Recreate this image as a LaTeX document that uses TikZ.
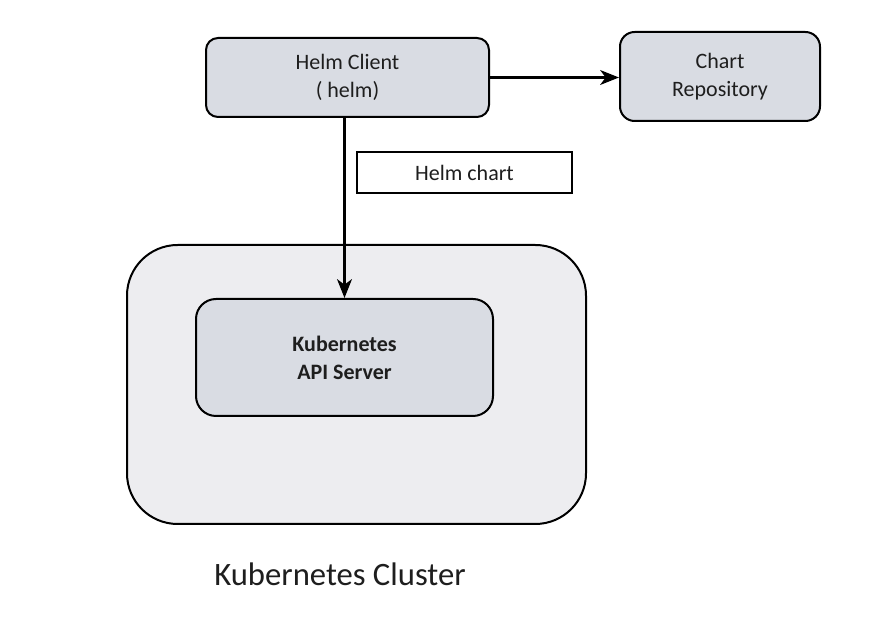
\documentclass[tikz,border=0pt]{standalone}
\usepackage{fontspec}
\setmainfont{Carlito}
\usetikzlibrary{arrows.meta}
\definecolor{boxfill}{HTML}{D9DCE3}
\definecolor{clusterfill}{HTML}{EDEDF0}
\definecolor{txt}{HTML}{1E1E1E}
\tikzset{
  px/.style={x=0.75pt,y=-0.75pt},
  bluebox/.style={draw=black,fill=boxfill,line width=1.5pt,align=center,text=txt,
    font=\fontsize{16.5}{21}\selectfont,inner sep=0pt},
  labelbox/.style={draw=black,fill=white,line width=1.2pt,align=center,text=txt,
    font=\fontsize{16.5}{21}\selectfont,inner sep=0pt},
  conn/.style={line width=2.3pt,-{Stealth[length=14pt,width=11pt,inset=4pt]}}
}
\begin{document}
\begin{tikzpicture}[px]
\useasboundingbox (0,0) rectangle (869,630);
\node[bluebox,fill=clusterfill,minimum width=344.25pt,minimum height=209.25pt,rounded corners=38pt] (cluster) at (356.5,384.5) {};
\node[bluebox,minimum width=222.75pt,minimum height=87.75pt,rounded corners=15pt,font=\fontsize{16.5}{21}\selectfont\bfseries] (api) at (344.5,357.5) {Kubernetes\\API Server};
\node[bluebox,minimum width=212.25pt,minimum height=59.25pt,rounded corners=9pt] (helm) at (347.5,77.5) {Helm Client\\( helm)};
\node[bluebox,minimum width=150pt,minimum height=66.75pt,rounded corners=11pt] (repo) at (720,76.5) {Chart\\Repository};
\node[labelbox,minimum width=161.25pt,minimum height=30.75pt] (chart) at (464.5,172.5) {Helm chart};
\node[text=txt,font=\fontsize{24.5}{30}\selectfont] (clabel) at (340,574) {Kubernetes Cluster};
\draw[conn] (helm.east) -- (repo.west |- helm.east);
\draw[conn] (api.north |- helm.south) -- (api.north);
\end{tikzpicture}
\end{document}
